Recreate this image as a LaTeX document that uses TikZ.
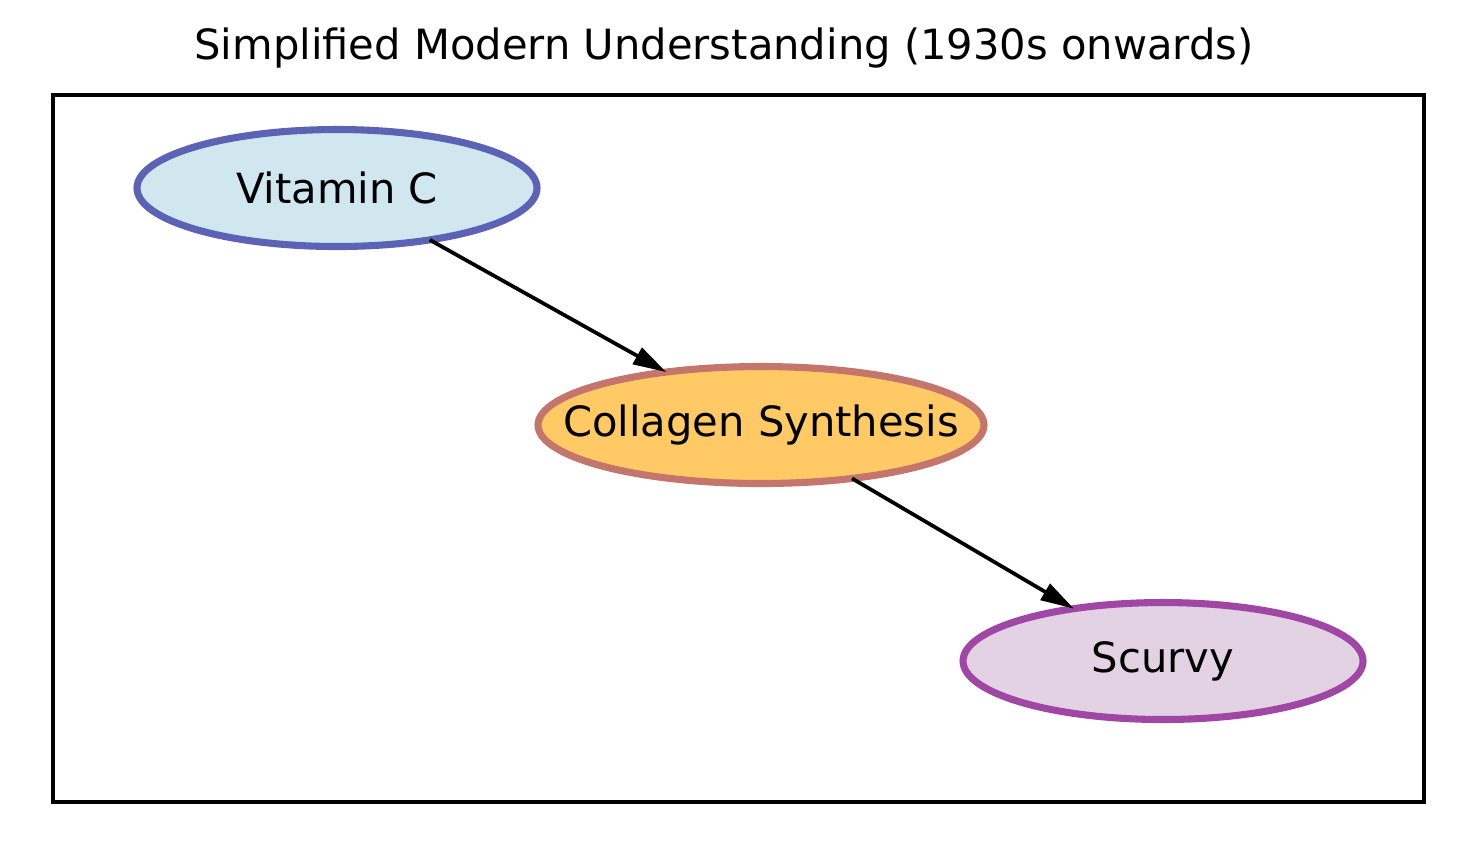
\documentclass[tikz,border=0pt]{standalone}
\usepackage{fontspec}
\setmainfont{DejaVu Sans}
\usetikzlibrary{shapes.geometric,arrows.meta}
\definecolor{vcfill}{HTML}{D0E7F0}
\definecolor{vcdraw}{HTML}{5C62B4}
\definecolor{csfill}{HTML}{FFC966}
\definecolor{csdraw}{HTML}{C4756C}
\definecolor{scfill}{HTML}{E2D2E4}
\definecolor{scdraw}{HTML}{A046A4}
\tikzset{
  nd/.style={ellipse, inner sep=0pt, outer sep=0pt, line width=1.7pt, font=\fontsize{10}{12}\selectfont},
  edge/.style={line width=0.9pt, -{Triangle[length=8pt,width=4.4pt]}},
}
\begin{document}
\begin{tikzpicture}[x=0.24pt,y=-0.24pt]
\useasboundingbox (0,0) rectangle (1477,857);
\node[font=\fontsize{10}{12}\selectfont] (title) at (724,48) {Simplified Modern Understanding (1930s onwards)};
\node[draw, line width=0.8pt, minimum width=1371*0.24pt, minimum height=707*0.24pt, inner sep=0pt] (frame) at (738.5,448.5) {};
\node[nd, fill=vcfill, draw=vcdraw, minimum width=400*0.24pt, minimum height=117*0.24pt] (vc) at (337,188) {Vitamin C};
\node[nd, fill=csfill, draw=csdraw, inner xsep=-10.5pt, minimum width=446*0.24pt, minimum height=117*0.24pt] (cs) at (761,425) {Collagen Synthesis};
\node[nd, fill=scfill, draw=scdraw, minimum width=400*0.24pt, minimum height=117*0.24pt] (sc) at (1163,661) {Scurvy};
\draw[edge] (vc) -- (cs);
\draw[edge] (cs) -- (sc);
\end{tikzpicture}
\end{document}
